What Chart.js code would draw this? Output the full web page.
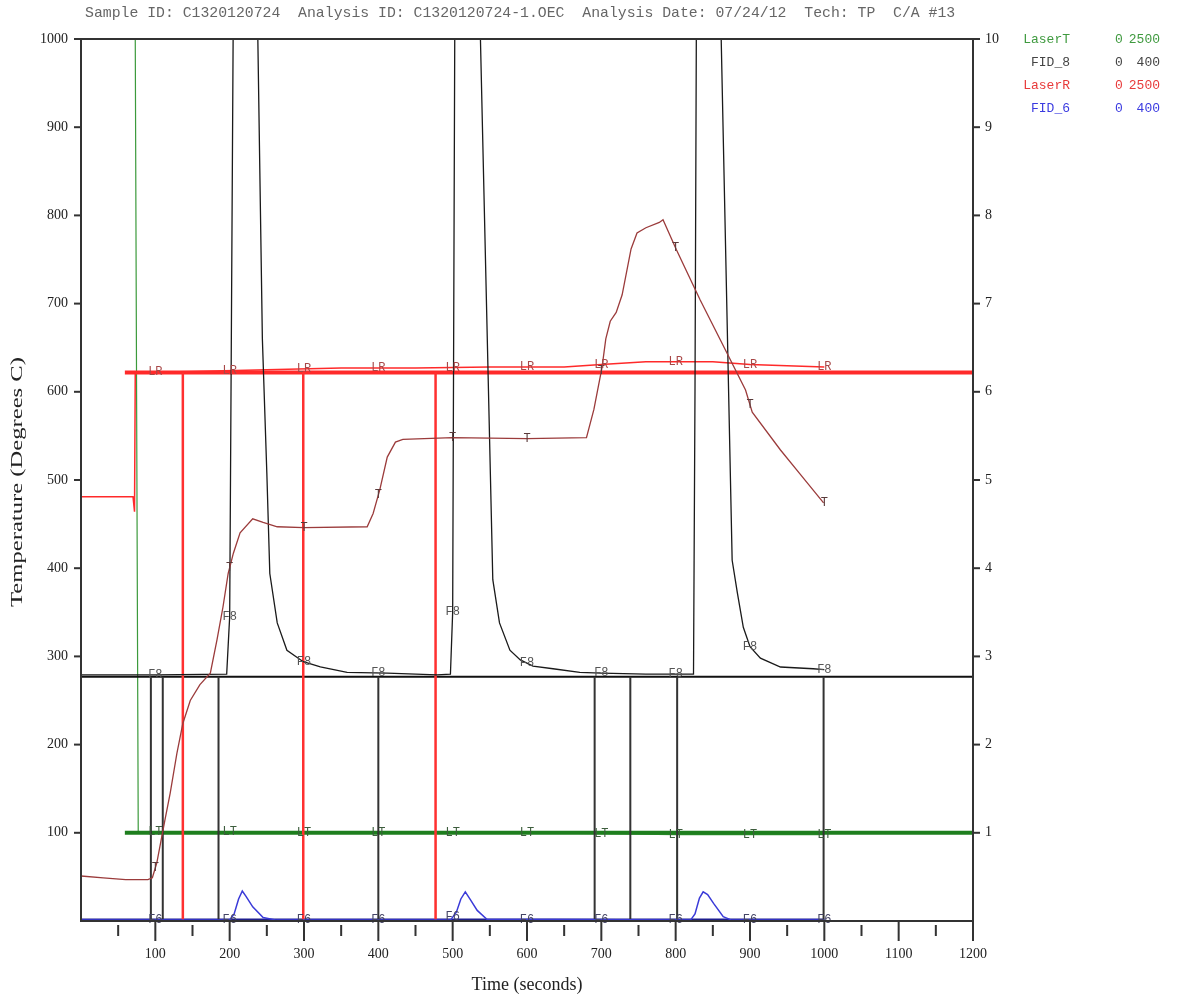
<!DOCTYPE html>
<html>
<head>
<meta charset="utf-8">
<script src="https://cdn.jsdelivr.net/npm/chart.js@4.4.1/dist/chart.umd.min.js"></script>
<style>
  html, body { margin: 0; padding: 0; background: #fff; }
  #wrap { width: 1185px; height: 1000px; }
</style>
</head>
<body>
<div id="wrap"><canvas id="myChart" width="1185" height="1000"></canvas></div>
<script>
// Header line and legend rows
const headerText = 'Sample ID: C1320120724  Analysis ID: C1320120724-1.OEC  Analysis Date: 07/24/12  Tech: TP  C/A #13';
const legendNames = ['LaserT', 'FID_8', 'LaserR', 'FID_6'];
const legendMins = ['0', '0', '0', '0'];
const legendMaxs = ['2500', '400', '2500', '400'];
const legendColors = ['#3f9a3f', '#444444', '#e83a3a', '#3a3ae0'];
const yTitle = 'Temperature (Degrees C)';

// Axis ticks
const xTickLabels = [100, 200, 300, 400, 500, 600, 700, 800, 900, 1000, 1100, 1200];
const leftTickLabels = [100, 200, 300, 400, 500, 600, 700, 800, 900, 1000];
const rightTickLabels = [1, 2, 3, 4, 5, 6, 7, 8, 9, 10];

// Times where the series tags (T, LT, LR, F8, F6) are printed
const markerTimes = [100, 200, 300, 400, 500, 600, 700, 800, 900, 1000];

// Series values [time (s), value on the temperature scale]
const tempPoints = [
    [0, 51], [30, 49], [60, 47], [90, 47], [96, 49], [102, 66], [113, 115], [120, 145],
    [129, 190], [137, 224], [147, 250], [160, 268], [174, 281], [183, 319], [191, 356],
    [198, 394], [205, 417], [214, 440], [231, 456], [245, 452], [264, 447], [300, 446],
    [385, 447], [393, 462], [402, 489], [412, 526], [423, 543], [433, 546], [500, 548],
    [600, 547], [680, 548], [690, 580], [701, 628], [706, 660], [712, 680], [720, 690],
    [728, 710], [740, 762], [748, 780], [760, 786], [778, 792], [783, 795], [801, 761],
    [833, 704], [860, 659], [894, 602], [903, 577], [941, 534], [968, 506], [999, 474]
];
const fid8Points = [
    [0, 279], [100, 279], [196, 280], [200, 345], [205, 1050], [237, 1050], [244, 660],
    [250, 508], [254, 394], [264, 338], [277, 307], [299, 294], [322, 288], [358, 282],
    [412, 281], [479, 279], [497, 280], [500, 350], [503, 1050], [536, 1050], [554, 387],
    [563, 338], [577, 307], [591, 296], [608, 289], [635, 286], [671, 282], [700, 281],
    [760, 280], [824, 280], [826, 600], [828, 1050], [860, 1050], [876, 409], [883, 372],
    [891, 333], [900, 311], [914, 298], [941, 288], [985, 286], [1000, 285]
];
const fid6Points = [
    [0, 1], [200, 1], [206, 8], [212, 25], [217, 34], [222, 28], [231, 16], [245, 4],
    [263, 1], [497, 1], [505, 10], [511, 25], [517, 33], [524, 24], [533, 12], [546, 2],
    [820, 1], [826, 8], [832, 26], [837, 33], [843, 30], [851, 20], [864, 5], [875, 1], [1000, 1]
];
const laserRPoints = [
    [0, 481], [70, 481], [72, 464], [73, 622], [150, 623], [250, 625], [350, 627], [450, 627],
    [550, 628], [650, 628], [700, 631], [760, 634], [850, 634], [900, 631], [1000, 628]
];
const laserTPoints = [
    [0, 1000], [73, 1000], [77, 101], [200, 101], [400, 100], [600, 100], [700, 99],
    [800, 98], [1000, 98]
];

// Reference levels and event lines
const fid8Baseline = 277;
const laserRLevel = 622;
const laserTLevel = 100;
const fid6Baseline = 1;
const refStart = 59;
const fidEventTimes = [94, 110, 185, 400, 691, 739, 802, 999];
const laserREventTimes = [137, 299, 477];
const laserTEventTimes = [477, 802];

let myChart = null;

function toXY(pts) {
    return pts.map(p => ({ x: p[0], y: p[1] }));
}

// vertical segments from 0 up to a level, broken by null gaps
function verticals(times, level) {
    const out = [];
    times.forEach(t => {
        out.push({ x: t, y: 0 }, { x: t, y: level }, { x: t, y: null });
    });
    return out;
}

function valueAt(pts, t) {
    for (let i = 1; i < pts.length; i++) {
        if (pts[i][0] >= t) {
            const [x0, y0] = pts[i - 1];
            const [x1, y1] = pts[i];
            return x1 === x0 ? y1 : y0 + (y1 - y0) * (t - x0) / (x1 - x0);
        }
    }
    return pts[pts.length - 1][1];
}

function line(data, color, width, extra) {
    return Object.assign({
        data: data,
        borderColor: color,
        borderWidth: width,
        pointRadius: 0,
        fill: false,
        tension: 0,
        spanGaps: false
    }, extra || {});
}

// Tags written along each trace
const tagPlugin = {
    id: 'tags',
    afterDatasetsDraw(chart) {
        const { ctx, scales: { x, y } } = chart;
        const tags = [
            { text: 'T', pts: tempPoints, color: '#5a3a3a' },
            { text: 'LT', pts: laserTPoints, color: '#3d5d3d' },
            { text: 'LR', pts: laserRPoints, color: '#a84848' },
            { text: 'F8', pts: fid8Points, color: '#555555' },
            { text: 'F6', pts: fid6Points, color: '#444466' }
        ];
        ctx.save();
        ctx.font = '12px "Liberation Mono"';
        ctx.textAlign = 'center';
        ctx.textBaseline = 'middle';
        tags.forEach(tag => {
            ctx.fillStyle = tag.color;
            markerTimes.forEach(t => {
                const v = Math.min(valueAt(tag.pts, t), 1000);
                ctx.fillText(tag.text, x.getPixelForValue(t), y.getPixelForValue(v));
            });
        });
        ctx.restore();
    }
};

// Frame, tick marks, header, legend and the left title
const framePlugin = {
    id: 'frame',
    afterDraw(chart) {
        const { ctx, chartArea: { left, right, top, bottom }, scales: { x, y, y2 } } = chart;
        ctx.save();
        ctx.strokeStyle = '#333';
        ctx.lineWidth = 2;
        ctx.strokeRect(left, top, right - left, bottom - top);

        // x ticks: long at labels, short halfway between
        xTickLabels.forEach(t => {
            let px = x.getPixelForValue(t);
            ctx.beginPath();
            ctx.moveTo(px, bottom);
            ctx.lineTo(px, bottom + 20);
            px = x.getPixelForValue(t - 50);
            ctx.moveTo(px, bottom + 4);
            ctx.lineTo(px, bottom + 15);
            ctx.stroke();
        });
        leftTickLabels.forEach(v => {
            const py = y.getPixelForValue(v);
            ctx.beginPath();
            ctx.moveTo(left - 7, py);
            ctx.lineTo(left, py);
            ctx.stroke();
        });
        rightTickLabels.forEach(v => {
            const py = y2.getPixelForValue(v);
            ctx.beginPath();
            ctx.moveTo(right, py);
            ctx.lineTo(right + 7, py);
            ctx.stroke();
        });

        // header
        ctx.font = '14.8px "Liberation Mono"';
        ctx.fillStyle = '#666';
        ctx.textAlign = 'left';
        ctx.textBaseline = 'middle';
        ctx.fillText(headerText, 85, 13);

        // legend
        ctx.font = '13px "Liberation Mono"';
        legendNames.forEach((name, i) => {
            const ly = 40 + i * 23;
            ctx.fillStyle = legendColors[i];
            ctx.textAlign = 'right';
            ctx.fillText(name, 1070, ly);
            ctx.textAlign = 'center';
            ctx.fillText(legendMins[i], 1119, ly);
            ctx.textAlign = 'right';
            ctx.fillText(legendMaxs[i], 1160, ly);
        });

        // left axis title, a little stretched along its length like the source
        ctx.translate(18, (top + bottom) / 2 + 2);
        ctx.rotate(-Math.PI / 2);
        ctx.font = '17px "Liberation Serif"';
        ctx.fillStyle = '#222';
        ctx.textAlign = 'center';
        const w = ctx.measureText(yTitle).width;
        ctx.scale(250 / w, 1);
        ctx.fillText(yTitle, 0, 0);
        ctx.restore();
    }
};

function buildChart() {
    const ctx = document.getElementById('myChart').getContext('2d');
    if (myChart) {
        myChart.destroy();
    }
    const tickFont = { family: '"Liberation Serif"', size: 14 };

    myChart = new Chart(ctx, {
        type: 'line',
        data: {
            datasets: [
                line(toXY(tempPoints), '#9b3b3b', 1.3),
                line(toXY(fid8Points), '#1a1a1a', 1.3),
                line(toXY(fid6Points), '#3a3ad8', 1.5),
                line(toXY(laserRPoints), '#ff2a2a', 1.5),
                line(verticals(fidEventTimes, fid8Baseline), '#333333', 2),
                line(verticals(laserREventTimes, laserRLevel), '#ff3030', 2.5),
                line(verticals(laserTEventTimes, laserTLevel), '#55aa55', 1.2),
                line([{ x: 0, y: fid8Baseline }, { x: 1200, y: fid8Baseline }], '#111111', 2),
                line([{ x: refStart, y: laserRLevel }, { x: 1200, y: laserRLevel }], '#ff2a2a', 4),
                line([{ x: refStart, y: laserTLevel }, { x: 1200, y: laserTLevel }], '#1e7e1e', 4),
                line([{ x: 0, y: fid6Baseline }, { x: 1000, y: fid6Baseline }], '#1e1e8e', 3),
                line(toXY(laserTPoints), '#3c9a3c', 1.2, { clip: 3 })
            ]
        },
        options: {
            responsive: false,
            animation: false,
            devicePixelRatio: 1,
            layout: { padding: { top: 39, left: 0, right: 0, bottom: 0 } },
            plugins: {
                legend: { display: false },
                tooltip: { enabled: false }
            },
            scales: {
                x: {
                    type: 'linear',
                    min: 0,
                    max: 1200,
                    grid: { display: false, drawTicks: false },
                    border: { display: false },
                    ticks: {
                        stepSize: 100,
                        autoSkip: false,
                        maxRotation: 0,
                        padding: 25,
                        color: '#222',
                        font: tickFont,
                        callback: function (value) {
                            return xTickLabels.includes(value) ? String(value) : '';
                        }
                    },
                    title: {
                        display: true,
                        text: 'Time (seconds)',
                        color: '#222',
                        font: { family: '"Liberation Serif"', size: 18 },
                        padding: { top: 0, bottom: 4 }
                    },
                    afterFit: function (scale) { scale.height = 79; }
                },
                y: {
                    position: 'left',
                    min: 0,
                    max: 1000,
                    grid: { display: false, drawTicks: false },
                    border: { display: false },
                    ticks: {
                        stepSize: 100,
                        padding: 13,
                        color: '#222',
                        font: tickFont,
                        callback: function (value) {
                            return leftTickLabels.includes(value) ? String(value) : '';
                        }
                    },
                    afterFit: function (scale) { scale.width = 81; }
                },
                y2: {
                    position: 'right',
                    min: 0,
                    max: 10,
                    grid: { display: false, drawTicks: false },
                    border: { display: false },
                    ticks: {
                        stepSize: 1,
                        padding: 12,
                        color: '#222',
                        font: tickFont,
                        callback: function (value) {
                            return rightTickLabels.includes(value) ? String(value) : '';
                        }
                    },
                    afterFit: function (scale) { scale.width = 212; }
                }
            }
        },
        plugins: [tagPlugin, framePlugin]
    });
}

window.onload = function () {
    buildChart();
};
</script>
</body>
</html>
